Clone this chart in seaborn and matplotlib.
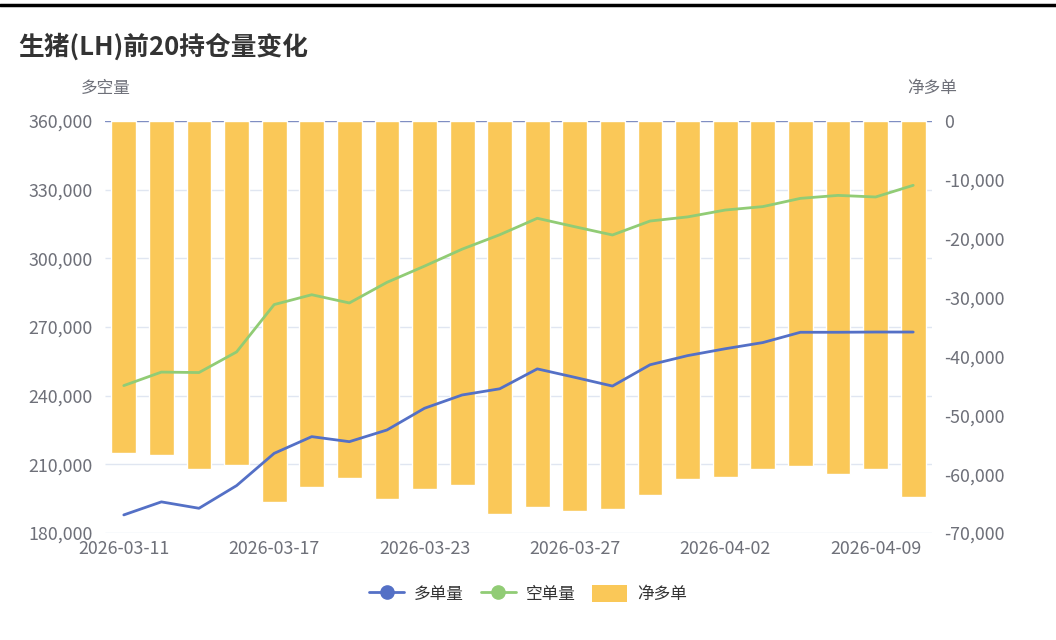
import numpy as np
import seaborn as sns
import matplotlib.pyplot as plt
from matplotlib.lines import Line2D
from matplotlib.patches import Patch
from matplotlib.ticker import FuncFormatter
from matplotlib.transforms import blended_transform_factory

sns.set_style('white')
plt.rcParams['font.family'] = ['Noto Sans CJK SC', 'DejaVu Sans']
plt.rcParams['axes.unicode_minus'] = False

dates = ['2026-03-11', '2026-03-12', '2026-03-13', '2026-03-16', '2026-03-17', '2026-03-18',
         '2026-03-19', '2026-03-20', '2026-03-23', '2026-03-24', '2026-03-25', '2026-03-26',
         '2026-03-27', '2026-03-30', '2026-03-31', '2026-04-01', '2026-04-02', '2026-04-03',
         '2026-04-07', '2026-04-08', '2026-04-09', '2026-04-10']
# 多单量
long_vol = [187900, 193600, 190800, 200700, 214800, 222100, 219900, 225000, 234500, 240300, 243000,
            251700, 248000, 244200, 253500, 257500, 260500, 263200, 267700, 267700, 267800, 267800]
# 空单量
short_vol = [244400, 250300, 250100, 259100, 279800, 284100, 280500, 289500, 296600, 304000, 310300,
             317500, 313800, 310200, 316300, 318100, 321100, 322600, 326200, 327500, 326800, 331900]
# 净多单
net_long = [-56400, -56700, -59100, -58400, -64700, -62100, -60700, -64300, -62500, -61800, -66700,
            -65600, -66300, -66000, -63600, -60800, -60500, -59100, -58600, -60000, -59200, -63900]

left_ticks = list(range(180000, 360001, 30000))
right_ticks = list(range(-70000, 1, 10000))

c_long = '#5470c6'
c_short = '#91cc75'
c_bar = '#fac858'
c_text = '#6E7079'
c_grid = '#E0E6F1'

fig = plt.figure(figsize=(10.56, 6.4), dpi=100)
ax = fig.add_axes([105 / 1056, 1 - 533 / 640, 827 / 1056, 412 / 640])

# bars on the right-hand axis (drawn first, below lines)
sns.barplot(x=dates, y=net_long, ax=ax, color=c_bar, saturation=1, width=0.66, zorder=2)
ax2 = ax.twinx()
xs = np.arange(len(dates))
sns.lineplot(x=xs, y=long_vol, ax=ax2, color=c_long, linewidth=2)
sns.lineplot(x=xs, y=short_vol, ax=ax2, color=c_short, linewidth=2)

ax.set_xlim(-0.5, len(dates) - 0.5)
ax.set_ylim(-70000, 0)
ax2.set_ylim(180000, 360000)
ax.yaxis.tick_right()
ax2.yaxis.tick_left()
ax.set_yticks(right_ticks)
ax2.set_yticks(left_ticks)
fmt = FuncFormatter(lambda v, p: f'{v:,.0f}')
ax.yaxis.set_major_formatter(fmt)
ax2.yaxis.set_major_formatter(fmt)
ax.set_xticks(xs[::4])
ax.set_xticklabels(dates[::4])

# split lines of the left axis, behind the bars
tr = blended_transform_factory(ax.transAxes, ax2.transData)
ax.hlines(left_ticks[:-1], 0, 1, transform=tr, color=c_grid, linewidth=1, zorder=0)
ax.axhline(0, color='#7F8EC2', linewidth=1, zorder=1)

for a in (ax, ax2):
    for s in a.spines.values():
        s.set_visible(False)
    a.set_xlabel('')
    a.set_ylabel('')
    a.tick_params(length=0, labelsize=12.8, colors=c_text)
ax.tick_params(axis='y', pad=9)
ax2.tick_params(axis='y', pad=9)
ax.tick_params(axis='x', pad=5)

fig.text(18 / 1056, 1 - 47 / 640, '生猪(LH)前20持仓量变化', fontsize=18.5, fontweight='bold',
         color='#333333', ha='left', va='center')
fig.text(106 / 1056, 1 - 88 / 640, '多空量', fontsize=12, color=c_text, ha='center', va='center')
fig.text(932 / 1056, 1 - 88 / 640, '净多单', fontsize=12, color=c_text, ha='center', va='center')
fig.add_artist(Line2D([0, 1], [1 - 5 / 640, 1 - 5 / 640], color='black', linewidth=2.5,
                      transform=fig.transFigure))

handles = [Line2D([0], [0], color=c_long, linewidth=2, marker='o', markersize=9.5),
           Line2D([0], [0], color=c_short, linewidth=2, marker='o', markersize=9.5),
           Patch(facecolor=c_bar, edgecolor='none')]
fig.legend(handles, ['多单量', '空单量', '净多单'], loc='center', bbox_to_anchor=(0.5, 1 - 594 / 640),
           ncol=3, frameon=False, fontsize=12, handlelength=2.1, handleheight=1.2,
           columnspacing=1.0, handletextpad=0.6, labelcolor='#333333')

fig.savefig('out.png', dpi=100)
